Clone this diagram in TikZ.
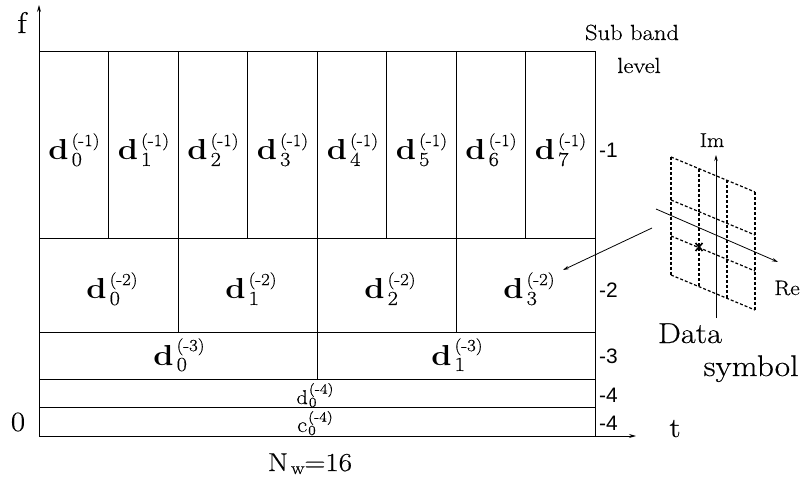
\documentclass[tikz,border=0pt]{standalone}
\usepackage{fontspec}
\setmainfont{Latin Modern Roman}[FakeStretch=1.12, UprightFeatures={FakeBold=0.4}]
\newfontfamily\lsans{Liberation Sans}
\usetikzlibrary{arrows.meta,calc}
\newcommand\fs[1]{\fontsize{#1}{#1}\selectfont}
\newcommand\bigd[2]{{\fs{29}\bfseries d}\hspace{3pt}\rlap{\raisebox{-6pt}{\fs{20}#1}}\raisebox{14pt}{\fs{17}(-#2)}}
\newcommand\smalld[2]{{\fs{#2}#1}\hspace{1pt}\rlap{\raisebox{-3pt}{\fs{14}0}}\raisebox{10.5pt}{\fs{14}(-4)}}
\begin{document}
\begin{tikzpicture}[x=1bp,y=-1bp,
  gridline/.style={line width=0.9pt},
  axarrow/.style={line width=0.9pt,-{Stealth[length=7pt,width=4pt]}},
  dlab/.style={anchor=base,inner sep=0pt},
  lev/.style={anchor=base west,inner sep=0pt,font=\lsans\fs{21}},
  txt/.style={anchor=base,inner sep=0pt},
  dsh/.style={line width=1.2pt,dash pattern=on 3pt off 2pt},
  thin/.style={line width=0.8pt,-{Stealth[length=6pt,width=3.5pt]}}]
\useasboundingbox (0,0) rectangle (804,480);
% grid
\draw[gridline] (39,51) rectangle (595,436);
\foreach \y in {238,332,379,407} \draw[gridline] (39,\y) -- (595,\y);
\foreach \x in {108.5,178,247.5,317,386.5,456,525.5} \draw[gridline] (\x,51) -- (\x,238);
\foreach \x in {178,317,456} \draw[gridline] (\x,238) -- (\x,332);
\draw[gridline] (317,332) -- (317,379);
% axes
\coordinate (O) at (39,436);
\coordinate (ftip) at (39,5);
\coordinate (ttip) at (636,436);
\draw[axarrow] (O) -- (ftip);
\draw[axarrow] (O) -- (ttip);
\node[txt,font=\fs{30}] (f) at (22,33) {f};
\node[txt,font=\fs{28}] (zero) at (18,431) {0};
\node[txt,font=\fs{28}] (t) at (675,437) {t};
\node[txt,font=\fs{26}] (nw) at (310,471) {N\raisebox{-3pt}{\fs{18}\,w}=16};
\node[txt,font=\fs{22}] (sb) at (632,40) {Sub band};
\node[txt,font=\fs{22}] (lv) at (639,73) {level};
% level labels
\node[lev] (l1) at (599,158) {-1};
\node[lev] (l2) at (599,298) {-2};
\node[lev] (l3) at (599,363) {-3};
\node[lev] (l4a) at (599,402) {-4};
\node[lev] (l4b) at (599,430) {-4};
% row -1
\foreach \i/\x in {0/74,1/143.5,2/213,3/282.5,4/352.5,5/421.5,6/491,7/560.5}
  \node[dlab] (a\i) at (\x,160) {\bigd{\i}{1}};
% row -2
\foreach \i/\x in {0/112,1/251,2/390,3/529}
  \node[dlab] (b\i) at (\x,299) {\bigd{\i}{2}};
% row -3
\node[dlab] (c0) at (179,365) {\bigd{0}{3}};
\node[dlab] (c1) at (457,365) {\bigd{1}{3}};
% row -4
\node[dlab] (e0) at (315,404) {\smalld{d}{20}};
\node[dlab] (e1) at (315,432) {\smalld{c}{22}};
% data symbol inset
\foreach \x in {671,699,727,755} \draw[dsh] (\x,{157+(\x-671)*0.4167}) -- (\x,{275+(\x-671)*0.4167});
\foreach \y in {157,200,236,275} \draw[dsh] (671,\y) -- (755,{\y+35});
\coordinate (imb) at (716,318);
\coordinate (imt) at (716,155);
\coordinate (reb) at (656,209);
\coordinate (ret) at (778,262);
\draw[thin] (imb) -- (imt);
\draw[thin] (reb) -- (ret);
\coordinate (xm) at (699,247);
\draw[line width=1.6pt] ($(xm)+(-3.5,-4)$) -- ($(xm)+(3.5,4)$) ($(xm)+(3.5,-4)$) -- ($(xm)+(-3.5,4)$);
\node[txt,font=\fs{20}] (im) at (712,147) {Im};
\node[txt,font=\fs{21}] (re) at (787,295) {Re};
\node[txt,font=\fs{29}] (data) at (690,343) {Data};
\node[txt,font=\fs{30}] (sym) at (751,376) {symbol};
\coordinate (ps) at (652,228);
\coordinate (pe) at (563,270);
\draw[thin] (ps) -- (pe);
\end{tikzpicture}
\end{document}
